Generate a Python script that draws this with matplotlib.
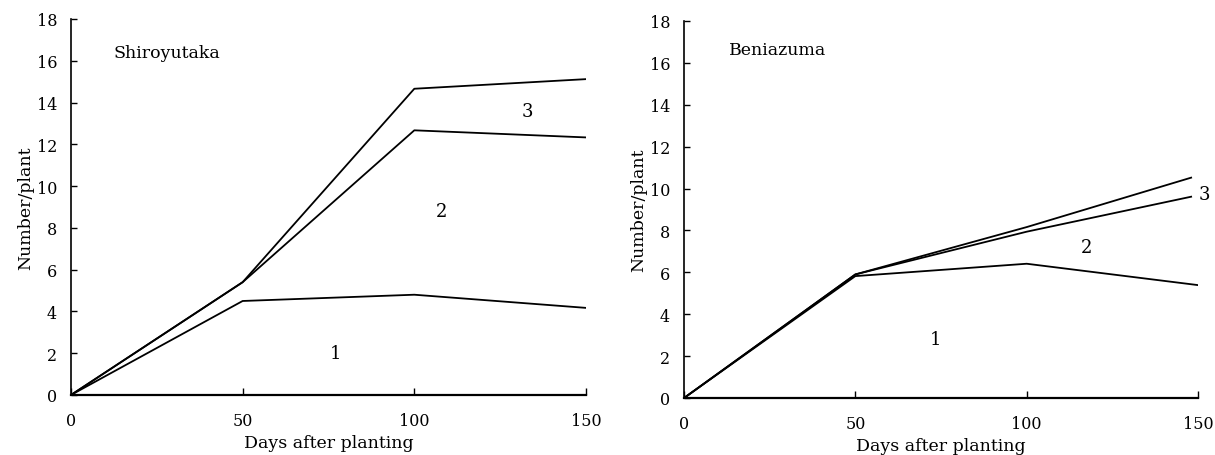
"""Number/plant over days after planting, Shiroyutaka vs Beniazuma (cumulative lines, regions 1-3)."""
import matplotlib
matplotlib.use("Agg")
import matplotlib.pyplot as plt

matplotlib.rcParams["font.family"] = ["DejaVu Serif"]

days = [0, 50, 100, 150]
days_short = [0, 50, 100, 148]

# Shiroyutaka: cumulative boundaries
shiro_1 = [0, 4.5, 4.8, 4.17]
shiro_2 = [0, 5.4, 12.67, 12.33]
shiro_3 = [0, 5.4, 14.66, 15.12]

# Beniazuma
beni_1 = [0, 5.82, 6.41, 5.39]
beni_2 = [0, 5.9, 7.94, 9.61]
beni_3 = [0, 5.9, 8.16, 10.52]

region_labels = ["1", "2", "3"]
shiro_label_pos = [(77, 2.0), (108, 8.8), (133, 13.6)]
beni_label_pos = [(73.5, 2.8), (117.5, 7.2), (152, 9.75)]

fig = plt.figure(figsize=(12.15, 4.56), dpi=100)
ax1 = fig.add_axes([0.0584, 0.1316, 0.4239, 0.8246])
ax2 = fig.add_axes([0.5630, 0.1250, 0.4230, 0.8268])


def style(ax, name, name_xy):
    ax.set_xlim(0, 150)
    ax.set_ylim(0, 18)
    ax.set_xticks([0, 50, 100, 150])
    ax.set_yticks(range(0, 19, 2))
    for s in ("top", "right"):
        ax.spines[s].set_visible(False)
    ax.spines["left"].set_linewidth(1.2)
    ax.spines["bottom"].set_linewidth(1.6)
    ax.tick_params(direction="in", width=1, labelsize=11.5)
    ax.tick_params(axis="x", length=5, pad=12)
    ax.tick_params(axis="y", length=4, pad=10)
    ax.set_xlabel("Days after planting", fontsize=12.5, labelpad=4)
    ax.set_ylabel("Number/plant", fontsize=12.5, labelpad=2)
    ax.text(name_xy[0], name_xy[1], name, fontsize=12.5, va="center")


ax1.plot(days, shiro_1, color="black", lw=1.3)
ax1.plot(days, shiro_2, color="black", lw=1.3)
ax1.plot(days, shiro_3, color="black", lw=1.3)
style(ax1, "Shiroyutaka", (12.5, 16.4))
for lab, (x, y) in zip(region_labels, shiro_label_pos):
    ax1.text(x, y, lab, fontsize=13, ha="center", va="center")

ax2.plot(days, beni_1, color="black", lw=1.3)
ax2.plot(days_short, beni_2, color="black", lw=1.3)
ax2.plot(days_short, beni_3, color="black", lw=1.3)
style(ax2, "Beniazuma", (13.1, 16.66))
for lab, (x, y) in zip(region_labels, beni_label_pos):
    ax2.text(x, y, lab, fontsize=13, ha="center", va="center", clip_on=False)

plt.savefig("out.png", dpi=100)
